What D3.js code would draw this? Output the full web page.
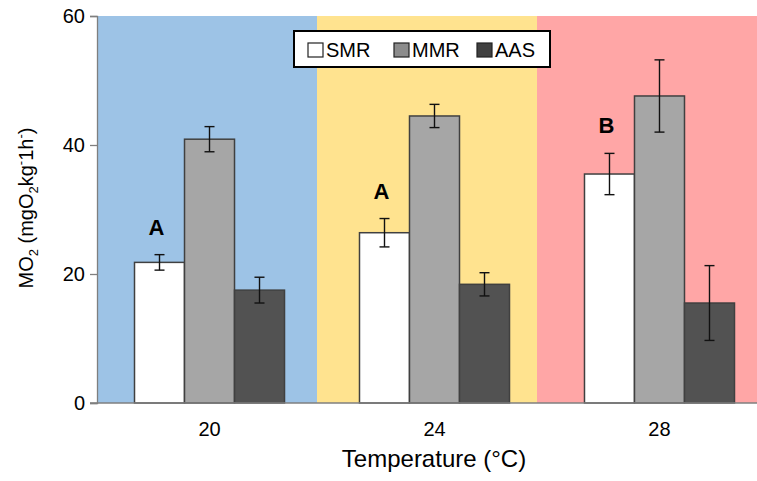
<!DOCTYPE html>
<html>
<head>
<meta charset="utf-8">
<script src="https://cdn.jsdelivr.net/npm/d3@7"></script>
<style>
  html, body { margin: 0; padding: 0; background: #fff; }
  svg { display: block; font-family: "Liberation Sans", Arial, sans-serif; }
</style>
</head>
<body>
<svg id="chart" width="757" height="481"></svg>
<script>
// Metabolic rates by acclimation temperature
const temperatures = ["20", "24", "28"];
const seriesNames = ["SMR", "MMR", "AAS"];
const smrMean = [21.8, 26.4, 35.5];
const smrErr  = [1.2, 2.2, 3.2];
const mmrMean = [40.9, 44.5, 47.6];
const mmrErr  = [1.95, 1.8, 5.6];
const aasMean = [17.5, 18.4, 15.5];
const aasErr  = [2.0, 1.8, 5.8];
const groupLetters = ["A", "A", "B"];
const yTicks = [0, 20, 40, 60];
const bandColors = ["#9DC3E6", "#FFE38F", "#FFA6A6"];
const seriesColors = ["#FFFFFF", "#A6A6A6", "#525252"];

const svg = d3.select("#chart");

const plotLeft = 97, plotTop = 16, plotBottom = 403;
const y = d3.scaleLinear().domain([0, 60]).range([plotBottom, plotTop]);

// category axis runs a little past the right edge of the page
const x = d3.scaleBand().domain(temperatures).range([plotLeft, 772]).paddingOuter(0.1667).paddingInner(0.3333);
const xs = d3.scaleBand().domain(seriesNames).range([0, x.bandwidth()]);

// coloured background panels
const bg = d3.scaleBand().domain(temperatures).range([plotLeft, 757]);
svg.append("g").selectAll("rect").data(temperatures).join("rect")
  .attr("x", d => bg(d)).attr("y", plotTop)
  .attr("width", bg.bandwidth()).attr("height", plotBottom - plotTop)
  .attr("fill", (d, i) => bandColors[i]);

const rows = temperatures.map((t, i) => ({
  t,
  vals: [
    { s: "SMR", v: smrMean[i], e: smrErr[i] },
    { s: "MMR", v: mmrMean[i], e: mmrErr[i] },
    { s: "AAS", v: aasMean[i], e: aasErr[i] }
  ]
}));

const groups = svg.append("g").selectAll("g").data(rows).join("g")
  .attr("transform", d => `translate(${x(d.t)},0)`);

groups.selectAll("rect").data(d => d.vals).join("rect")
  .attr("x", d => xs(d.s)).attr("y", d => y(d.v))
  .attr("width", xs.bandwidth()).attr("height", d => y(0) - y(d.v))
  .attr("fill", d => seriesColors[seriesNames.indexOf(d.s)])
  .attr("stroke", "#404040").attr("stroke-width", 1.5);

// error bars
const eb = groups.selectAll("g.err").data(d => d.vals).join("g").attr("class", "err")
  .attr("stroke", "#111").attr("stroke-width", 1.4);
const cx = d => xs(d.s) + xs.bandwidth() / 2;
eb.append("line").attr("x1", cx).attr("x2", cx)
  .attr("y1", d => y(d.v + d.e)).attr("y2", d => y(d.v - d.e));
eb.append("line").attr("x1", d => cx(d) - 5).attr("x2", d => cx(d) + 5)
  .attr("y1", d => y(d.v + d.e)).attr("y2", d => y(d.v + d.e));
eb.append("line").attr("x1", d => cx(d) - 5).attr("x2", d => cx(d) + 5)
  .attr("y1", d => y(d.v - d.e)).attr("y2", d => y(d.v - d.e));

// significance letters above SMR bars
svg.append("g").selectAll("text").data(rows).join("text")
  .attr("x", d => x(d.t) + xs("SMR") + xs.bandwidth() / 2 - 3)
  .attr("y", (d, i) => y(smrMean[i] + smrErr[i]) - 20)
  .attr("text-anchor", "middle")
  .attr("font-size", 22).attr("font-weight", "bold").attr("fill", "#000")
  .text((d, i) => groupLetters[i]);

// y axis
const yAxis = svg.append("g").attr("transform", `translate(${plotLeft},0)`)
  .call(d3.axisLeft(y).tickValues(yTicks).tickSize(7).tickPadding(5).tickFormat(d3.format("d")));
yAxis.select(".domain").attr("stroke", "#7f7f7f").attr("stroke-width", 1.3);
yAxis.selectAll(".tick line").attr("stroke", "#7f7f7f").attr("stroke-width", 1.3);
yAxis.selectAll(".tick text").attr("font-size", 20).attr("fill", "#000")
  .attr("font-family", "Liberation Sans, Arial, sans-serif");

// x axis
const xAxis = svg.append("g").attr("transform", `translate(0,${plotBottom})`)
  .call(d3.axisBottom(x).tickSize(0).tickPadding(19));
xAxis.select(".domain").attr("d", `M${plotLeft - 7},0H757`).attr("stroke", "#7f7f7f").attr("stroke-width", 1.6);
xAxis.selectAll(".tick text").attr("font-size", 20).attr("fill", "#000")
  .attr("font-family", "Liberation Sans, Arial, sans-serif");

// axis titles
svg.append("text").attr("x", 434).attr("y", 467).attr("text-anchor", "middle")
  .attr("font-size", 24).attr("fill", "#000").text("Temperature (°C)");

const yt = svg.append("text").attr("transform", "translate(33,208) rotate(-90)")
  .attr("text-anchor", "middle").attr("font-size", 20).attr("fill", "#000");
yt.append("tspan").text("MO");
yt.append("tspan").attr("font-size", 13).attr("dy", 5).text("2");
yt.append("tspan").attr("dy", -5).text(" (mgO");
yt.append("tspan").attr("font-size", 13).attr("dy", 5).text("2");
yt.append("tspan").attr("dy", -5).text("kg");
yt.append("tspan").attr("font-size", 13).attr("dy", -8).text("-");
yt.append("tspan").attr("dy", 8).text("1h");
yt.append("tspan").attr("font-size", 13).attr("dy", -8).text("-");
yt.append("tspan").attr("dy", 8).text(")");

// legend
const lg = svg.append("g").attr("transform", "translate(294,31)");
lg.append("rect").attr("width", 256).attr("height", 36)
  .attr("fill", "#fff").attr("stroke", "#000").attr("stroke-width", 2);
const legX = [14, 100, 183];
const items = lg.selectAll("g").data(seriesNames).join("g")
  .attr("transform", (d, i) => `translate(${legX[i]},0)`);
items.append("rect").attr("y", 12).attr("width", 15).attr("height", 14)
  .attr("fill", (d, i) => i === 0 ? "#fff" : (i === 1 ? "#8c8c8c" : "#404040"))
  .attr("stroke", "#222").attr("stroke-width", 1.2);
items.append("text").attr("x", 18).attr("y", 26)
  .attr("font-size", 20).attr("fill", "#000").text(d => d);
</script>
</body>
</html>
